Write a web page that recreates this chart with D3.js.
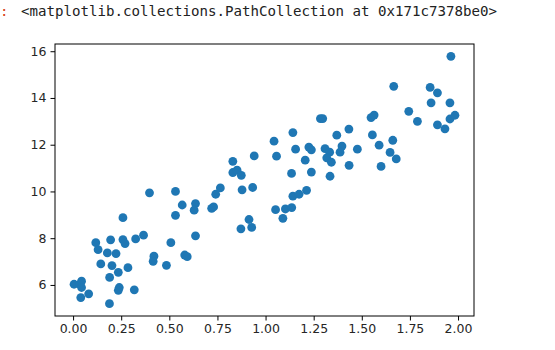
<!DOCTYPE html>
<html>
<head>
<meta charset="utf-8">
<script src="https://cdn.jsdelivr.net/npm/d3@7"></script>
<style>
  body { margin: 0; background: #fff; }
  svg { display: block; }
</style>
</head>
<body>
<div id="chart"></div>
<script>
const width = 555;
const height = 350;

// scatter points
const xValues = [
  0.005, 0.036, 0.044, 0.044, 0.04, 0.081, 0.189, 0.19, 0.202, 0.144,
  0.235, 0.24, 0.235, 0.318, 0.285, 0.118, 0.13, 0.178, 0.223, 0.195,
  0.259, 0.259, 0.27, 0.325, 0.366, 0.397, 0.42, 0.416, 0.485, 0.508,
  0.532, 0.532, 0.567, 0.58, 0.593, 0.636, 0.629, 0.636, 0.72, 0.73,
  0.741, 0.765, 0.83, 0.83, 0.852, 0.874, 0.878, 0.933, 0.872, 0.914,
  0.928, 0.941, 1.052, 1.09, 1.103, 1.136, 1.142, 1.174, 1.213, 1.135,
  1.238, 1.335, 1.434, 1.206, 1.057, 1.044, 1.142, 1.156, 1.225, 1.238,
  1.285, 1.297, 1.309, 1.333, 1.318, 1.342, 1.397, 1.387, 1.37, 1.433,
  1.477, 1.963, 1.666, 1.855, 1.893, 1.86, 1.958, 1.744, 1.789, 1.893,
  1.932, 1.958, 1.984, 1.548, 1.564, 1.555, 1.59, 1.661, 1.647, 1.679,
  1.6
];
const yValues = [
  6.03, 6.03, 6.16, 5.89, 5.46, 5.62, 5.20, 6.32, 6.83, 6.90,
  6.54, 5.89, 5.77, 5.79, 6.74, 7.81, 7.51, 7.37, 7.34, 7.93,
  8.88, 7.94, 7.77, 7.97, 8.13, 9.94, 7.23, 7.01, 6.84, 7.81,
  10.0, 8.98, 9.42, 7.28, 7.21, 9.48, 9.20, 8.10, 9.28, 9.34,
  9.88, 10.15, 11.29, 10.81, 10.91, 10.69, 10.07, 10.17, 8.40, 8.80,
  8.46, 11.52, 9.22, 8.85, 9.25, 9.31, 9.80, 9.88, 10.05, 10.77,
  10.83, 10.65, 11.12, 11.34, 11.51, 12.15, 12.52, 11.81, 11.90, 11.78,
  13.12, 13.12, 11.83, 11.68, 11.44, 11.25, 11.94, 11.68, 12.41, 12.67,
  11.81, 15.78, 14.50, 14.45, 14.22, 13.79, 13.79, 13.43, 13.00, 12.85,
  12.68, 13.10, 13.26, 13.16, 13.27, 12.42, 11.98, 12.19, 11.67, 11.39,
  11.07
];
const xTicks = [0, 0.25, 0.5, 0.75, 1.0, 1.25, 1.5, 1.75, 2.0];
const yTicks = [6, 8, 10, 12, 14, 16];
const outText = "<matplotlib.collections.PathCollection at 0x171c7378be0>";

const points = xValues.map((x, i) => ({ x, y: yValues[i] }));

const plot = { left: 55, top: 44, right: 474, bottom: 316 };

// matplotlib-style 5% margins around the data
const pad = (ext) => {
  const d = ext[1] - ext[0];
  return [ext[0] - d * 0.05, ext[1] + d * 0.05];
};

const xScale = d3.scaleLinear()
  .domain(pad(d3.extent(xValues)))
  .range([plot.left, plot.right]);

const yScale = d3.scaleLinear()
  .domain(pad(d3.extent(yValues)))
  .range([plot.bottom, plot.top]);

const svg = d3.select("#chart")
  .append("svg")
  .attr("width", width)
  .attr("height", height);

// notebook output line
svg.append("text")
  .attr("x", 0)
  .attr("y", 16)
  .attr("fill", "#d84315")
  .style("font-family", "DejaVu Sans Mono, monospace")
  .style("font-size", "14px")
  .text(":");

svg.append("text")
  .attr("x", 21)
  .attr("y", 16)
  .attr("fill", "#222")
  .attr("textLength", 476)
  .attr("lengthAdjust", "spacingAndGlyphs")
  .style("font-family", "DejaVu Sans Mono, monospace")
  .style("font-size", "14.4px")
  .text(outText);

svg.append("g")
  .selectAll("circle")
  .data(points)
  .enter()
  .append("circle")
  .attr("cx", d => xScale(d.x))
  .attr("cy", d => yScale(d.y))
  .attr("r", 4.4)
  .attr("fill", "#1f77b4");

const xAxis = d3.axisBottom(xScale)
  .tickValues(xTicks)
  .tickFormat(d3.format(".2f"))
  .tickSize(4.5)
  .tickPadding(4);

const yAxis = d3.axisLeft(yScale)
  .tickValues(yTicks)
  .tickFormat(d3.format("d"))
  .tickSize(4.5)
  .tickPadding(4);

const gx = svg.append("g")
  .attr("transform", `translate(0,${plot.bottom})`)
  .call(xAxis);

const gy = svg.append("g")
  .attr("transform", `translate(${plot.left},0)`)
  .call(yAxis);

[gx, gy].forEach(g => {
  g.select(".domain").remove();
  g.selectAll("line").attr("stroke", "#000").attr("stroke-width", 1);
  g.selectAll("text")
    .attr("fill", "#262626")
    .style("font-family", "DejaVu Sans, sans-serif")
    .style("font-size", "12.5px");
});

// frame
svg.append("rect")
  .attr("x", plot.left)
  .attr("y", plot.top)
  .attr("width", plot.right - plot.left)
  .attr("height", plot.bottom - plot.top)
  .attr("fill", "none")
  .attr("stroke", "#000")
  .attr("stroke-width", 1);
</script>
</body>
</html>
